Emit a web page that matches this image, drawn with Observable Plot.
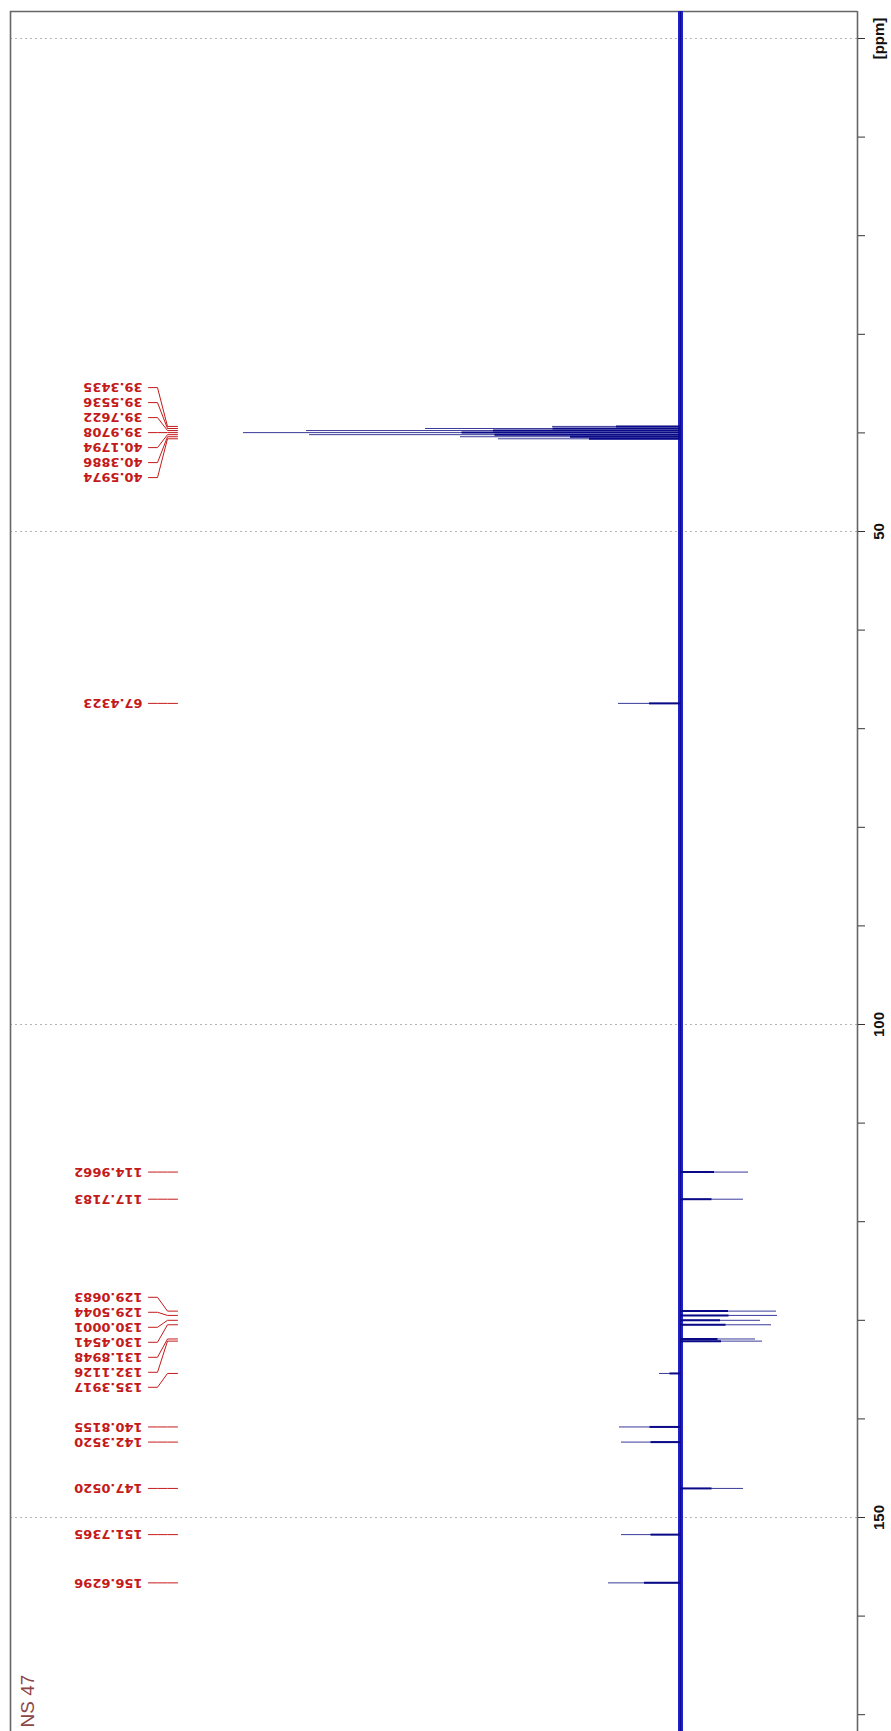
<!DOCTYPE html>
<html>
<head>
<meta charset="utf-8">
<script src="https://cdn.jsdelivr.net/npm/d3@7"></script>
<script src="https://cdn.jsdelivr.net/npm/@observablehq/plot@0.6"></script>
<style>
  html, body { margin: 0; padding: 0; background: #fff; }
  #chart svg { display: block; }
</style>
</head>
<body>
<div id="chart"></div>
<script>
// ---- data ----
const peakPpm = [39.3435, 39.5536, 39.7622, 39.9708, 40.1794, 40.3886, 40.5974,
  67.4323, 114.9662, 117.7183, 129.0683, 129.5044, 130.0001, 130.4541,
  131.8948, 132.1126, 135.3917, 140.8155, 142.3520, 147.0520, 151.7365, 156.6296];
const peakIntensity = [128, 255, 374, 437, 371, 220, 182,
  62, -68, -63, -96, -97, -80, -91,
  -75, -82, 21, 61, 59, -63, 59, 72];
const axisTicks = [0, 10, 20, 30, 40, 50, 60, 70, 80, 90, 100, 110, 120, 130, 140, 150, 160, 170];
const axisLabelValues = [0, 50, 100, 150];
const axisLabelText = ["[ppm]", "50", "100", "150"];
const scanNote = "NS 47";

// ---- layout ----
const W = 891, H = 1731;
const mL = 10, mR = 34, mT = 11, mB = 0;
const pxPerPpm = 9.86;
const zeroY = 38;                       // pixel of 0 ppm
const baseX = 680;                      // pixel of baseline
const yDomain = [-(zeroY - mT) / pxPerPpm, (H - mB - zeroY) / pxPerPpm];
const xDomain = [baseX - mL, baseX - (W - mR)];  // intensity, positive to the left
const toI = px => baseX - px;           // pixel column -> intensity units

const red = "#c41a1a";
const peaks = peakPpm.map((p, i) => ({ppm: p, I: peakIntensity[i]}));

// label de-overlap: groups of labels spaced 15px, centred on their peak range
const gap = 15 / pxPerPpm;
function layout(ppms) {
  let groups = ppms.map((p, i) => ({idx: [i]}));
  const place = g => {
    const lo = ppms[g.idx[0]], hi = ppms[g.idx[g.idx.length - 1]];
    const mid = (lo + hi) / 2, n = g.idx.length;
    g.pos = g.idx.map((_, k) => mid + (k - (n - 1) / 2) * gap);
  };
  groups.forEach(place);
  let merged = true;
  while (merged) {
    merged = false;
    for (let i = 0; i < groups.length - 1; i++) {
      const a = groups[i], b = groups[i + 1];
      if (b.pos[0] - a.pos[a.pos.length - 1] < gap - 1e-9) {
        a.idx = a.idx.concat(b.idx); place(a); groups.splice(i + 1, 1); merged = true; break;
      }
    }
  }
  const out = new Array(ppms.length);
  groups.forEach(g => g.idx.forEach((j, k) => out[j] = g.pos[k]));
  return out;
}
const labelPos = layout(peakPpm);
const labels = peaks.map((d, i) => ({...d, pos: labelPos[i], text: d.ppm.toFixed(4)}));

const leaders = labels.flatMap((d, i) => [
  {id: i, x: toI(148), y: d.pos},
  {id: i, x: toI(157), y: d.pos},
  {id: i, x: toI(167), y: d.ppm},
  {id: i, x: toI(177), y: d.ppm}
]);

const axisLabels = axisLabelValues.map((v, i) => ({v, t: axisLabelText[i]}));

const chart = Plot.plot({
  width: W, height: H,
  marginLeft: mL, marginRight: mR, marginTop: mT, marginBottom: mB,
  x: {domain: xDomain, axis: null},
  y: {domain: yDomain, range: [mT, H - mB], axis: null},
  style: {background: "#fff"},
  marks: [
    // dotted grid
    Plot.ruleY(axisLabelValues, {stroke: "#b4b4b4", strokeWidth: 1, strokeDasharray: "2,3"}),
    // frame (top, left, right)
    Plot.ruleY([yDomain[0]], {stroke: "#666", strokeWidth: 1.6}),
    Plot.ruleX([xDomain[0], xDomain[1]], {stroke: "#666", strokeWidth: 1.6}),
    // noisy baseline band
    Plot.ruleX([0], {stroke: "#2020cc", strokeWidth: 5}),
    Plot.ruleX([0], {stroke: "#0c0c96", strokeWidth: 1.2}),
    // peaks: thin full-length spike + heavier lower half
    Plot.ruleY(peaks, {y: "ppm", x1: 0, x2: "I", stroke: "#3a3a9a", strokeWidth: 1}),
    Plot.ruleY(peaks, {y: "ppm", x1: 0, x2: d => d.I * 0.5, stroke: "#0a0a88", strokeWidth: 2}),
    // leader lines
    Plot.line(leaders, {x: "x", y: "y", z: "id", stroke: red, strokeWidth: 1}),
    // peak labels (upside down)
    Plot.text(labels, {
      x: () => toI(142), y: "pos", text: "text", rotate: 180,
      textAnchor: "start", lineAnchor: "middle",
      fill: red, fontFamily: "DejaVu Sans", fontWeight: "bold", fontSize: 13
    }),
    // axis ticks on the right
    Plot.axisY(axisTicks, {anchor: "right", tickSize: 7, tickFormat: () => "", stroke: "#333"}),
    Plot.text(axisLabels, {
      x: () => xDomain[1], dx: 22, y: "v", text: "t", rotate: -90,
      textAnchor: "middle", lineAnchor: "middle",
      fill: "#111", fontFamily: "Liberation Sans", fontWeight: "bold", fontSize: 15
    }),
    Plot.text([scanNote], {
      frameAnchor: "bottom-left", dx: 17, dy: -4, rotate: -90,
      textAnchor: "start", lineAnchor: "middle",
      fill: "#8c4646", fontFamily: "Liberation Sans", fontSize: 19
    })
  ]
});
document.getElementById("chart").appendChild(chart);
</script>
</body>
</html>
